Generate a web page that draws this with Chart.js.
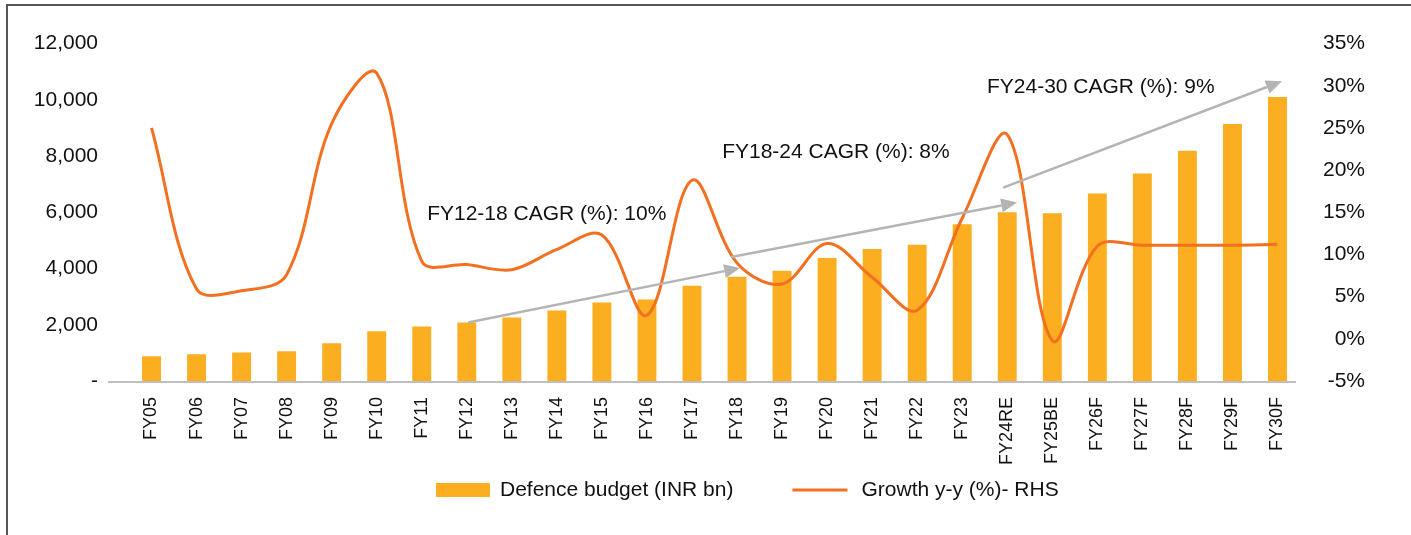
<!DOCTYPE html>
<html>
<head>
<meta charset="utf-8">
<script src="https://cdn.jsdelivr.net/npm/chart.js@4.4.1/dist/chart.umd.min.js"></script>
<style>
  html, body { margin: 0; padding: 0; background: #fff; }
  #wrap { position: relative; width: 1411px; height: 535px; overflow: hidden; }
  #frame { position: absolute; left: 6px; top: 4px; width: 1500px; height: 600px; border-top: 2px solid #555; border-left: 2px solid #555; }
  canvas { position: absolute; left: 0; top: 0; }
</style>
</head>
<body>
<div id="wrap"><div id="frame"></div><canvas id="chart" width="1411" height="535"></canvas></div>
<script>
const categories = ["FY05", "FY06", "FY07", "FY08", "FY09", "FY10", "FY11", "FY12", "FY13", "FY14", "FY15", "FY16", "FY17",
  "FY18", "FY19", "FY20", "FY21", "FY22", "FY23", "FY24RE", "FY25BE", "FY26F", "FY27F", "FY28F", "FY29F", "FY30F"];
const budget = [880, 950, 1010, 1055, 1340, 1765, 1940, 2080, 2260, 2505, 2790, 2895, 3390, 3705, 3920, 4375,
  4695, 4845, 5575, 6000, 5965, 6670, 7380, 8190, 9140, 10105];
const growth = [25.0, 5.9, 5.7, 7.6, 25.5, 31.5, 9.2, 8.8, 8.2, 10.6, 12.3, 2.8, 18.8, 9.0, 6.5, 11.3,
  7.3, 3.4, 14.3, 24.2, -0.2, 11.0, 11.1, 11.1, 11.1, 11.2];
const leftTicks = [0, 2000, 4000, 6000, 8000, 10000, 12000];
const rightTicks = [-5, 0, 5, 10, 15, 20, 25, 30, 35];

// CAGR arrows, in category index / budget units
const arrowFrom = [[7.03, 2080], [12.87, 4410], [18.91, 6880]];
const arrowTo = [[13.07, 4020], [19.22, 6350], [25.1, 10660]];
const cagrLabels = ["FY12-18 CAGR (%): 10%", "FY18-24 CAGR (%): 8%", "FY24-30 CAGR (%): 9%"];
const cagrLabelAt = [[6.12, 5930], [12.67, 8150], [18.55, 10450]];

const barColor = "#FBAE1F";
const lineColor = "#F37021";
const arrowColor = "#B4B4B4";
const axisColor = "#BFBFBF";
const font = "'Liberation Sans', Arial, sans-serif";

Chart.defaults.font.family = font;
Chart.defaults.color = "#111";

const xPix = (x, i) => {
  const a = x.getPixelForValue(0);
  const b = x.getPixelForValue(1);
  return a + (b - a) * i;
};

// baseline, CAGR arrows + labels, and the legend row
const extrasPlugin = {
  id: "extras",
  beforeDatasetsDraw(chart) {
    const { ctx, scales: { x, y } } = chart;
    const y0 = y.getPixelForValue(0);
    ctx.save();
    ctx.strokeStyle = axisColor;
    ctx.lineWidth = 2;
    ctx.beginPath();
    ctx.moveTo(x.left - 21, y0 + 1);
    ctx.lineTo(x.right - 4, y0 + 1);
    ctx.stroke();
    ctx.restore();
  },
  afterDatasetsDraw(chart) {
    const { ctx, scales: { x, y } } = chart;
    ctx.save();
    ctx.strokeStyle = arrowColor;
    ctx.fillStyle = arrowColor;
    ctx.lineWidth = 2.5;
    arrowFrom.forEach((f, k) => {
      const x0 = xPix(x, f[0]), y0 = y.getPixelForValue(f[1]);
      const x1 = xPix(x, arrowTo[k][0]), y1 = y.getPixelForValue(arrowTo[k][1]);
      const ang = Math.atan2(y1 - y0, x1 - x0);
      const len = 16, half = 7;
      const bx = x1 - Math.cos(ang) * len, by = y1 - Math.sin(ang) * len;
      ctx.beginPath();
      ctx.moveTo(x0, y0);
      ctx.lineTo(bx, by);
      ctx.stroke();
      ctx.beginPath();
      ctx.moveTo(x1, y1);
      ctx.lineTo(bx + Math.sin(ang) * half, by - Math.cos(ang) * half);
      ctx.lineTo(bx - Math.sin(ang) * half, by + Math.cos(ang) * half);
      ctx.closePath();
      ctx.fill();
    });
    ctx.fillStyle = "#111";
    ctx.font = "21px " + font;
    ctx.textAlign = "left";
    ctx.textBaseline = "middle";
    cagrLabels.forEach((t, k) => {
      ctx.fillText(t, xPix(x, cagrLabelAt[k][0]), y.getPixelForValue(cagrLabelAt[k][1]));
    });

    // legend
    const ly = 490;
    let lx = 436;
    chart.data.datasets.forEach((ds) => {
      let tx;
      if (ds.type === "line") {
        ctx.strokeStyle = ds.borderColor;
        ctx.lineWidth = 3;
        ctx.beginPath();
        ctx.moveTo(lx, ly);
        ctx.lineTo(lx + 55, ly);
        ctx.stroke();
        tx = lx + 69;
      } else {
        ctx.fillStyle = ds.backgroundColor;
        ctx.fillRect(lx, ly - 7, 54, 14);
        tx = lx + 64;
      }
      ctx.fillStyle = "#111";
      ctx.fillText(ds.label, tx, ly);
      lx = tx + ctx.measureText(ds.label).width + 59;
    });
    ctx.restore();
  }
};

new Chart(document.getElementById("chart"), {
  data: {
    labels: categories,
    datasets: [
      {
        type: "bar",
        label: "Defence budget (INR bn)",
        data: budget,
        backgroundColor: barColor,
        barPercentage: 0.42,
        categoryPercentage: 1,
        yAxisID: "y",
        order: 1
      },
      {
        type: "line",
        label: "Growth y-y (%)- RHS",
        data: growth,
        borderColor: lineColor,
        backgroundColor: lineColor,
        borderWidth: 3,
        pointRadius: 0,
        tension: 0.35,
        fill: false,
        yAxisID: "y1",
        order: 0
      }
    ]
  },
  options: {
    responsive: false,
    animation: false,
    devicePixelRatio: 1,
    layout: { padding: { left: 20, right: 46, top: 41, bottom: 54 } },
    scales: {
      x: {
        offset: true,
        grid: { display: false, drawTicks: false },
        border: { display: false },
        ticks: { font: { size: 18 }, color: "#111", minRotation: 90, maxRotation: 90, padding: 16, autoSkip: false },
        afterFit(s) { s.height = 100; }
      },
      y: {
        position: "left",
        min: 0,
        max: 12000,
        afterBuildTicks(s) { s.ticks = leftTicks.map((v) => ({ value: v })); },
        grid: { display: false, drawTicks: false },
        border: { display: false },
        ticks: {
          font: { size: 21 },
          color: "#111",
          padding: 31,
          callback: (v) => (v === 0 ? "-" : v.toLocaleString("en-US"))
        },
        afterFit(s) { s.width = 109; }
      },
      y1: {
        position: "right",
        min: -5,
        max: 35,
        afterBuildTicks(s) { s.ticks = rightTicks.map((v) => ({ value: v })); },
        grid: { display: false, drawTicks: false },
        border: { display: false },
        ticks: { font: { size: 21 }, color: "#111", padding: 20, crossAlign: "far", callback: (v) => v + "%" },
        afterFit(s) { s.width = 65; }
      }
    },
    plugins: {
      tooltip: { enabled: false },
      legend: { display: false }
    }
  },
  plugins: [extrasPlugin]
});
</script>
</body>
</html>
